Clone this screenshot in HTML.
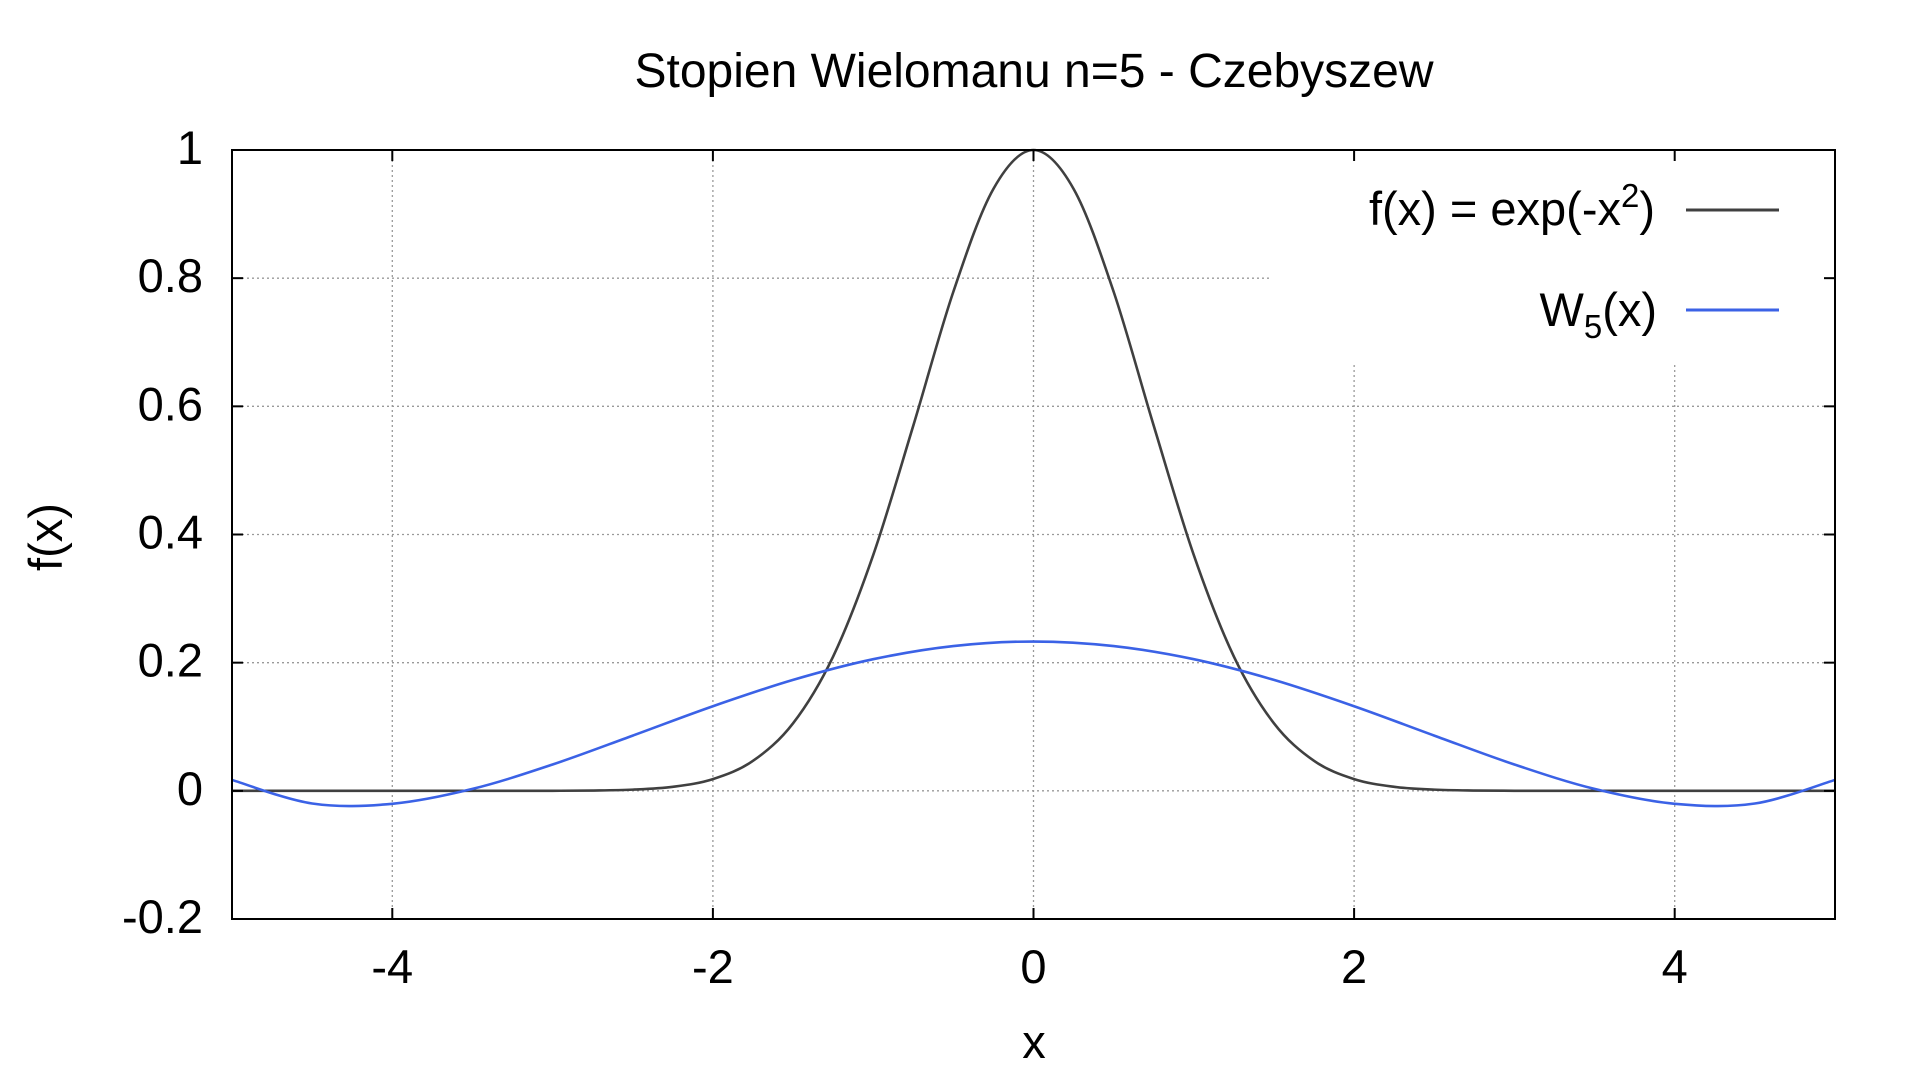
<!DOCTYPE html>
<html><head><meta charset="utf-8"><style>
html,body{margin:0;padding:0;background:#fff;}
svg{display:block;font-family:"Liberation Sans",sans-serif;}
</style></head><body>
<svg id="chart" width="1920" height="1080" viewBox="0 0 1920 1080">
<rect width="1920" height="1080" fill="#fff"/>
<g id="grid"></g>
<rect x="1272" y="151" width="562" height="212" fill="#fff"/>
<g id="curves"></g>
<rect x="232" y="150" width="1603" height="769" fill="none" stroke="#000" stroke-width="2"/>
<g id="ticks"></g>
<text x="1034" y="87" font-size="48" text-anchor="middle">Stopien Wielomanu n=5 - Czebyszew</text>
<text x="1034" y="1058" font-size="47" text-anchor="middle">x</text>
<text x="0" y="0" font-size="47" text-anchor="middle" transform="translate(62,537) rotate(-90)">f(x)</text>
<g>
<text x="1655" y="225" font-size="47" text-anchor="end">f(x) = exp(-x<tspan dy="-18" font-size="33">2</tspan><tspan dy="18">)</tspan></text>
<line x1="1686" y1="210" x2="1779" y2="210" stroke="#404040" stroke-width="3"/>
<text x="1657" y="326" font-size="47" text-anchor="end">W<tspan dy="12" font-size="33">5</tspan><tspan dy="-12">(x)</tspan></text>
<line x1="1686" y1="310" x2="1779" y2="310" stroke="#3b62e6" stroke-width="3"/>
</g>
</svg>
<script>
const xTicks = [-4, -2, 0, 2, 4];
const yTicks = [-0.2, 0, 0.2, 0.4, 0.6, 0.8, 1];
const yTickLabels = ["-0.2", "0", "0.2", "0.4", "0.6", "0.8", "1"];
const gaussX = [-5,-4.75,-4.5,-4.25,-4,-3.75,-3.5,-3.25,-3,-2.75,-2.5,-2.25,-2,-1.75,-1.5,-1.25,-1,-0.75,-0.5,-0.25,0,0.25,0.5,0.75,1,1.25,1.5,1.75,2,2.25,2.5,2.75,3,3.25,3.5,3.75,4,4.25,4.5,4.75,5];
const gaussY = [0,0,0,0,0,0,0,0,0.0001,0.0005,0.0019,0.0063,0.0183,0.0468,0.1054,0.2096,0.3679,0.5698,0.7788,0.9394,1,0.9394,0.7788,0.5698,0.3679,0.2096,0.1054,0.0468,0.0183,0.0063,0.0019,0.0005,0.0001,0,0,0,0,0,0,0,0];
const w5X = [-5,-4.5,-4,-3.5,-3,-2.5,-2,-1.5,-1,-0.5,0,0.5,1,1.5,2,2.5,3,3.5,4,4.5,5];
const w5Y = [0.017,-0.0198,-0.0202,0.003,0.0411,0.0862,0.132,0.1731,0.2054,0.2259,0.233,0.2259,0.2054,0.1731,0.132,0.0862,0.0411,0.003,-0.0202,-0.0198,0.017];

const X0=232, X1=1835, Y0=919, Y1=150;
function sx(v){return X0+(v+5)/10*(X1-X0);}
function sy(v){return Y0-(v+0.2)/1.2*(Y0-Y1);}
const NS="http://www.w3.org/2000/svg";
function mk(tag,attrs,parent){const e=document.createElementNS(NS,tag);for(const k in attrs)e.setAttribute(k,attrs[k]);parent.appendChild(e);return e;}
const grid=document.getElementById('grid'), ticks=document.getElementById('ticks'), curves=document.getElementById('curves');
xTicks.forEach((t,i)=>{
  const g=mk('line',{x1:sx(t),x2:sx(t),y1:Y1,y2:Y0,stroke:'#999','stroke-width':1.3,'stroke-dasharray':'2,3'},grid);
  
  
  const a=mk('line',{x1:sx(t),x2:sx(t),y1:Y0,y2:Y0-11,stroke:'#000','stroke-width':2},ticks);
  
  
  const b=mk('line',{x1:sx(t),x2:sx(t),y1:Y1,y2:Y1+11,stroke:'#000','stroke-width':2},ticks);
  
  
  const l=mk('text',{x:sx(t),y:983,'font-size':47,'text-anchor':'middle'},ticks);
  l.textContent=String(t);
  
  
});
yTicks.forEach((t,i)=>{
  const g=mk('line',{x1:X0,x2:X1,y1:sy(t),y2:sy(t),stroke:'#999','stroke-width':1.3,'stroke-dasharray':'2,3'},grid);
  
  
  const a=mk('line',{x1:X0,x2:X0+11,y1:sy(t),y2:sy(t),stroke:'#000','stroke-width':2},ticks);
  
  
  const b=mk('line',{x1:X1,x2:X1-11,y1:sy(t),y2:sy(t),stroke:'#000','stroke-width':2},ticks);
  
  
  const l=mk('text',{x:203,y:sy(t)+14,'font-size':47,'text-anchor':'end'},ticks);
  l.textContent=yTickLabels[i];
  
  
});
function smoothPath(xs,ys){
  const p=xs.map((x,i)=>[sx(x),sy(ys[i])]);
  let d='M'+p[0][0]+','+p[0][1];
  for(let i=0;i<p.length-1;i++){
    const p0=p[Math.max(i-1,0)],p1=p[i],p2=p[i+1],p3=p[Math.min(i+2,p.length-1)];
    const c1=[p1[0]+(p2[0]-p0[0])/6,p1[1]+(p2[1]-p0[1])/6];
    const c2=[p2[0]-(p3[0]-p1[0])/6,p2[1]-(p3[1]-p1[1])/6];
    d+=' C'+c1[0]+','+c1[1]+' '+c2[0]+','+c2[1]+' '+p2[0]+','+p2[1];
  }
  return d;
}
const gp=mk('path',{d:smoothPath(gaussX,gaussY),fill:'none',stroke:'#404040','stroke-width':2.6},curves);


const wp=mk('path',{d:smoothPath(w5X,w5Y),fill:'none',stroke:'#3b62e6','stroke-width':2.6},curves);


</script>
</body></html>
